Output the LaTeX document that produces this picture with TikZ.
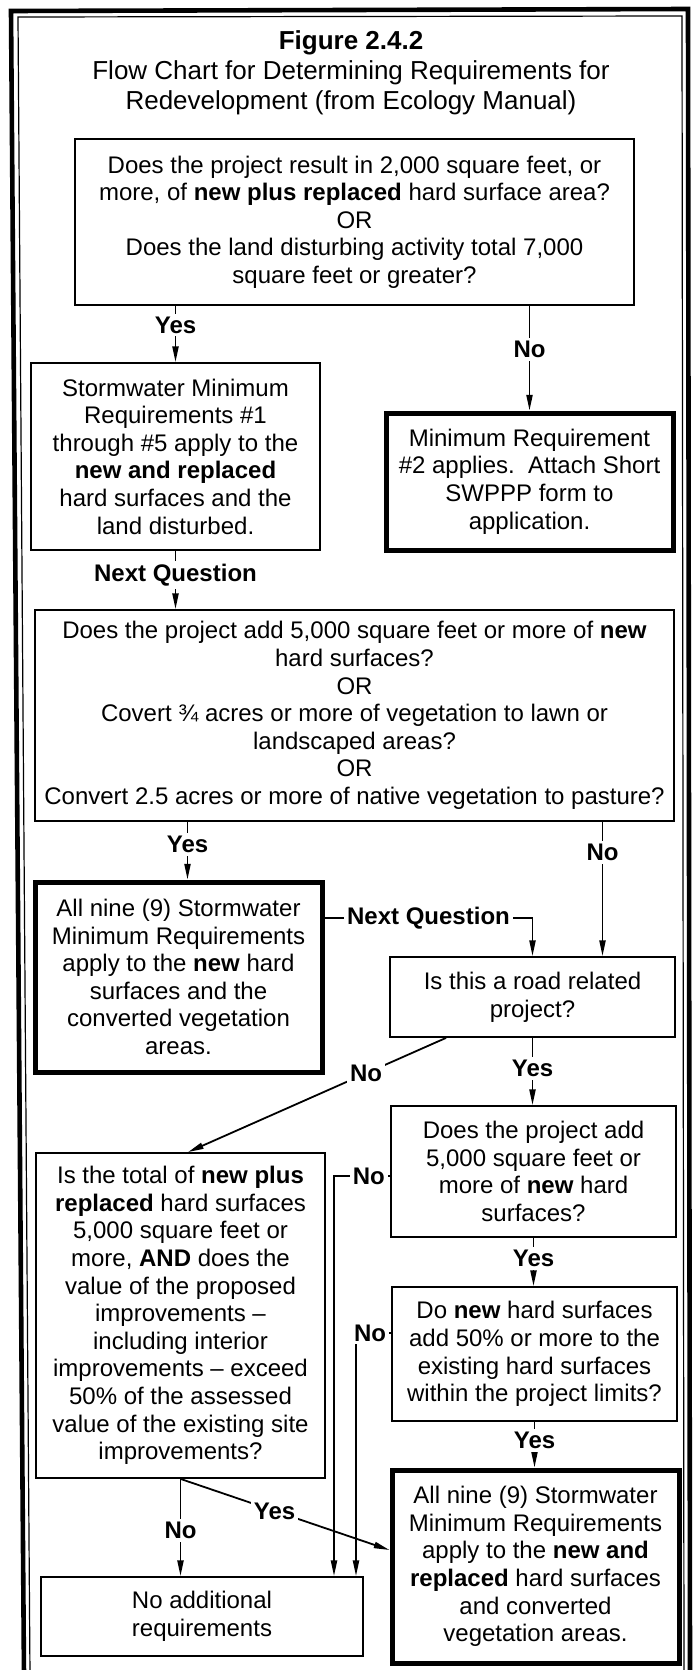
\documentclass[tikz,border=0pt]{standalone}
\usepackage{fontspec}
\setmainfont{Liberation Sans}
\usetikzlibrary{arrows.meta,positioning}
\tikzset{>={Stealth[inset=0pt,angle=22:8pt]}}
\tikzset{
    box/.style={draw, line width=0.9pt, align=center, inner sep=2pt,
        font=\fontsize{12}{13.8}\selectfont},
    thickbox/.style={box, line width=2.5pt},
    lbl/.style={fill=white, inner sep=1.5pt, font=\fontsize{12}{13.8}\selectfont\bfseries},
    link/.style={->, line width=0.9pt}
}

\begin{document}
\begin{tikzpicture}[x=0.5pt, y=-0.5pt]
    \useasboundingbox (0,0) rectangle (699,1670);
    % double frame, open at the bottom
    \draw[line width=2.3pt] (24,1675) -- (11,11) -- (688,9) -- (690,1675);
    \draw[line width=0.6pt] (30,1675) -- (18,17) -- (682,16) -- (684,1675);

    \node[align=center, font=\fontsize{13}{15}\selectfont] (title) at (351,73)
        {\textbf{Figure 2.4.2}\\ Flow Chart for Determining Requirements for\\ Redevelopment (from Ecology Manual)};

    \node[box, minimum width=279.5pt, minimum height=83pt] (q1) at (354.5,222)
        {Does the project result in 2,000 square feet, or\\ more, of \textbf{new plus replaced} hard surface area?\\ OR\\ Does the land disturbing activity total 7,000\\ square feet or greater?};
    \node[box, minimum width=144.5pt, minimum height=93.5pt] (s1) at (175.5,456.5)
        {Stormwater Minimum\\ Requirements \#1\\ through \#5 apply to the\\ \textbf{new and replaced}\\ hard surfaces and the\\ land disturbed.};
    \node[thickbox, minimum width=143.5pt, minimum height=68.5pt] (m2) at (529.5,481.5)
        {Minimum Requirement\\ \#2 applies.\ \ Attach Short\\ SWPPP form to\\ application.};
    \node[box, minimum width=319.5pt, minimum height=105.5pt] (q2) at (354.5,715.5)
        {Does the project add 5,000 square feet or more of \textbf{new}\\ hard surfaces?\\ OR\\ Covert ¾ acres or more of vegetation to lawn or\\ landscaped areas?\\ OR\\ Convert 2.5 acres or more of native vegetation to pasture?};
    \node[thickbox, minimum width=143.5pt, minimum height=95pt] (a9) at (178.5,977)
        {All nine (9) Stormwater\\ Minimum Requirements\\ apply to the \textbf{new} hard\\ surfaces and the\\ converted vegetation\\ areas.};
    \node[box, minimum width=142.5pt, minimum height=40pt] (road) at (532.5,997)
        {Is this a road related\\ project?};
    \node[box, minimum width=142.5pt, minimum height=65.5pt] (q4) at (533.5,1171.5)
        {Does the project add\\ 5,000 square feet or\\ more of \textbf{new} hard\\ surfaces?};
    \node[box, minimum width=144.5pt, minimum height=162.5pt] (q3) at (180.5,1315.5)
        {Is the total of \textbf{new plus}\\ \textbf{replaced} hard surfaces\\ 5,000 square feet or\\ more, \textbf{AND} does the\\ value of the proposed\\ improvements –\\ including interior\\ improvements – exceed\\ 50\% of the assessed\\ value of the existing site\\ improvements?};
    \node[box, minimum width=142.5pt, minimum height=67pt] (q5) at (534.5,1354)
        {Do \textbf{new} hard surfaces\\ add 50\% or more to the\\ existing hard surfaces\\ within the project limits?};
    \node[thickbox, minimum width=143.5pt, minimum height=96.5pt] (af) at (535.5,1566.5)
        {All nine (9) Stormwater\\ Minimum Requirements\\ apply to the \textbf{new and}\\ \textbf{replaced} hard surfaces\\ and converted\\ vegetation areas.};
    \node[box, minimum width=161pt, minimum height=39.5pt] (na) at (202,1616.5)
        {No additional\\ requirements};

    \draw[link] (q1.south -| s1.north) -- node[lbl, pos=0.34]{Yes} (s1.north);
    \draw[link] (q1.south -| m2.north) -- node[lbl, pos=0.42]{No} (m2.north);
    \draw[link] (s1.south) -- node[lbl, pos=0.42]{Next Question} (s1.south |- q2.north);
    \draw[link] ([xshift=4.5pt]a9.north |- q2.south) -- node[lbl, pos=0.39]{Yes} ([xshift=4.5pt]a9.north);
    \draw[link] ([xshift=35pt]road.north |- q2.south) -- node[lbl, pos=0.23]{No} ([xshift=35pt]road.north);
    \draw[link] ([yshift=29.5pt]a9.east) -| node[lbl, pos=0.25]{Next Question} (road.north);
    \draw[link] ([xshift=-43.25pt]road.south) -- node[lbl, pos=0.31]{No} ([xshift=3.75pt]q3.north);
    \draw[link] (road.south) -- node[lbl, pos=0.46]{Yes} (road.south |- q4.north);
    \draw[link] ([yshift=-2.25pt]q4.west) -| node[lbl, pos=0.19]{No} ([xshift=66pt]na.north);
    \draw[link] (q4.south) -- node[lbl, pos=0.42]{Yes} (q4.south |- q5.north);
    \draw[link] ([yshift=10.5pt]q5.west) -| node[lbl, pos=0.3]{No} ([xshift=77pt]na.north);
    \draw[link] (q5.south) -- node[lbl, pos=0.41]{Yes} (q5.south |- af.north);
    \draw[link] (q3.south) -- node[lbl, pos=0.53]{No} (q3.south |- na.north);
    \draw[link] (q3.south) -- node[lbl, pos=0.45]{Yes} ([yshift=8.25pt]af.west);
\end{tikzpicture}
\end{document}
